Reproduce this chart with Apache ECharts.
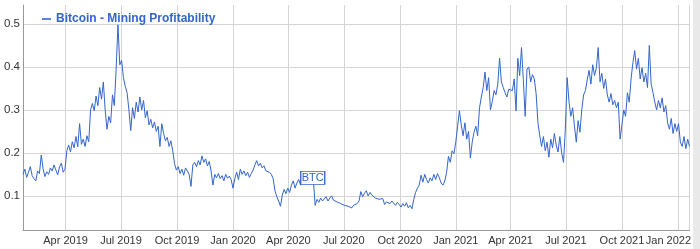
<!DOCTYPE html>
<html>
<head>
<meta charset="utf-8">
<script src="https://cdn.jsdelivr.net/npm/echarts@6/dist/echarts.min.js"></script>
<style>
html,body{margin:0;padding:0;background:#fff;}
#chart{width:700px;height:249px;}
</style>
</head>
<body>
<div id="chart"></div>
<script>
// ---- data ----
const seriesName = 'Bitcoin - Mining Profitability';
const startDate = '2019-01-21';
const stepDays = 3;
const profitability = [
  0.150,0.162,0.143,0.155,0.168,0.147,0.140,0.135,0.158,0.152,0.195,0.163,0.145,0.156,0.150,0.165,0.158,0.172,0.160,0.149,0.167,0.176,0.155,
  0.162,
  0.205,0.218,0.202,0.226,0.212,0.238,0.214,0.268,0.220,0.232,
  0.215,0.240,0.226,0.300,0.315,0.298,0.332,0.310,0.352,0.325,
  0.365,0.300,0.255,0.285,0.270,0.335,0.310,0.395,0.498,0.405,
  0.415,0.375,0.355,0.340,0.300,0.252,0.305,0.280,0.318,0.295,
  0.330,0.300,0.322,0.282,0.298,0.265,0.278,0.258,0.272,0.250,
  0.262,0.215,0.268,0.245,0.228,0.236,0.215,0.228,0.205,0.175,
  0.160,0.168,0.152,0.162,0.148,0.165,0.158,0.150,0.122,0.172,
  0.178,0.168,0.182,0.172,0.193,0.178,0.186,0.170,0.180,0.158,
  0.125,0.150,0.142,0.152,0.140,0.147,0.135,0.150,0.141,0.146,
  0.138,0.118,
  0.140,0.155,0.138,0.162,0.150,0.158,0.147,0.155,0.143,0.152,
  0.160,0.172,0.182,0.170,0.176,0.165,0.170,0.158,0.162,
  0.155,0.150,0.140,0.112,0.098,0.088,0.076,0.102,0.115,0.105,
  0.118,0.108,0.125,0.135,0.118,0.130,0.138,0.125,0.135,0.128,
  0.142,0.135,0.140,0.132,0.138,0.078,0.092,0.085,0.095,0.088,
  0.092,0.098,0.088,0.095,0.100,0.090,0.094,0.086,0.089,0.082,
  0.085,0.078,0.082,0.076,0.080,0.072,0.078,0.074,0.082,0.088,
  0.110,0.098,0.106,0.112,0.100,0.108,0.102,0.106,0.095,0.098,
  0.092,0.088,0.094,0.080,0.086,0.090,0.082,0.088,0.084,0.078,
  0.085,0.080,0.074,0.082,0.076,0.084,0.072,0.078,0.070,0.092,0.108,
  0.118,0.125,0.148,0.132,0.150,0.138,0.130,0.142,0.135,0.150,
  0.138,0.152,0.142,0.130,0.125,0.135,0.155,0.192,0.178,0.205,0.198,
  0.225,0.262,0.298,0.265,0.240,0.270,0.232,0.250,0.188,0.225,0.248,
  0.262,0.240,0.305,0.330,0.352,0.388,0.345,0.375,0.300,
  0.320,0.345,0.335,0.360,0.420,0.365,0.352,0.340,0.330,0.348,
  0.352,0.345,0.372,0.298,0.420,0.380,0.445,0.370,0.285,0.395,
  0.400,0.365,0.382,0.372,0.338,0.270,0.240,0.215,0.238,0.205,
  0.225,0.190,0.232,0.212,0.245,0.218,0.202,0.238,0.200,0.178,0.255,
  0.375,0.320,0.285,0.305,0.262,0.225,0.275,0.248,0.300,0.335,
  0.345,0.370,0.392,0.360,0.405,0.380,0.398,0.445,0.365,0.385,
  0.350,0.372,0.335,0.318,0.338,0.312,0.322,0.305,0.318,0.232,
  0.265,0.300,0.285,0.340,0.318,0.372,0.410,0.438,0.395,0.420,
  0.372,0.398,0.365,0.385,0.352,0.450,0.360,0.340,0.318,0.300,
  0.322,0.305,0.328,0.295,0.310,0.270,0.255,0.280,0.245,0.268,
  0.250,0.268,0.225,0.215,0.238,0.210,0.232,0.215
];
const monthNames = ['Jan','Feb','Mar','Apr','May','Jun','Jul','Aug','Sep','Oct','Nov','Dec'];
const yMin = 0.019, yMax = 0.544;
const annotationDate = '2020-05-11';
const annotationValue = 0.142;
const annotationLabel = 'BTC';

// ---- build ----
const DAY = 86400000;
const t0 = Date.parse(startDate + 'T00:00:00Z');
const seriesData = profitability.map((v, i) => [t0 + i * stepDays * DAY, v]);
const tEnd = t0 + (profitability.length - 1) * stepDays * DAY;

const blue = '#3366cc';
const grid = '#d4d4d4';
const font = 'Liberation Sans, Arial, sans-serif';
const chart = echarts.init(document.getElementById('chart'), null, {renderer: 'canvas'});
chart.setOption({
  useUTC: true,
  animation: false,
  backgroundColor: '#fff',
  grid: {left: 23, right: 10.5, top: 5, bottom: 18.3},
  graphic: [{
    type: 'rect', right: 0, top: 0, z: -1, silent: true,
    shape: {width: 7, height: 249}, style: {fill: '#e9e9e9'}
  }],
  legend: {
    show: true, left: 37, top: 8, itemWidth: 9, itemHeight: 1.6, itemGap: 10,
    icon: 'rect',
    textStyle: {color: blue, fontWeight: 'bold', fontSize: 12, fontFamily: font},
    data: [seriesName]
  },
  xAxis: {
    type: 'time', min: t0, max: tEnd, splitNumber: 12,
    axisLine: {show: true, lineStyle: {color: '#999', width: 1}},
    axisTick: {show: false},
    splitLine: {show: true, lineStyle: {color: grid, width: 1}},
    axisLabel: {
      color: '#333', fontSize: 11, margin: 5, fontFamily: font,
      hideOverlap: false,
      formatter: function (v) {
        const d = new Date(v);
        const s = monthNames[d.getUTCMonth()] + ' ' + d.getUTCFullYear();
        return (tEnd - v < 30 * DAY) ? '{e|' + s + '}' : s;
      },
      rich: {e: {color: '#333', fontSize: 11, fontFamily: font, padding: [0, 19, 0, 0]}}
    }
  },
  yAxis: {
    type: 'value', min: yMin, max: yMax, splitNumber: 5,
    axisLine: {show: true, lineStyle: {color: '#999', width: 1}},
    axisTick: {show: false},
    splitLine: {show: true, lineStyle: {color: [grid, grid, grid, grid, grid, grid, 'rgba(0,0,0,0)'], width: 1}},
    axisLabel: {color: '#333', fontSize: 11.5, margin: 3, showMinLabel: false, showMaxLabel: false,
      fontFamily: font,
      formatter: function (v) { return String(Math.round(v * 10) / 10); }}
  },
  series: [{
    name: seriesName, type: 'line', data: seriesData, showSymbol: false, symbol: 'none',
    lineStyle: {color: blue, width: 1}, itemStyle: {color: blue},
    markPoint: {
      symbol: 'rect', symbolSize: [24, 13],
      itemStyle: {color: '#fff', borderColor: blue, borderWidth: 1},
      label: {show: true, position: 'inside', color: blue, fontSize: 11, fontFamily: font, formatter: annotationLabel},
      data: [{coord: [Date.parse(annotationDate + 'T00:00:00Z'), annotationValue]}]
    }
  }]
});
</script>
</body>
</html>
